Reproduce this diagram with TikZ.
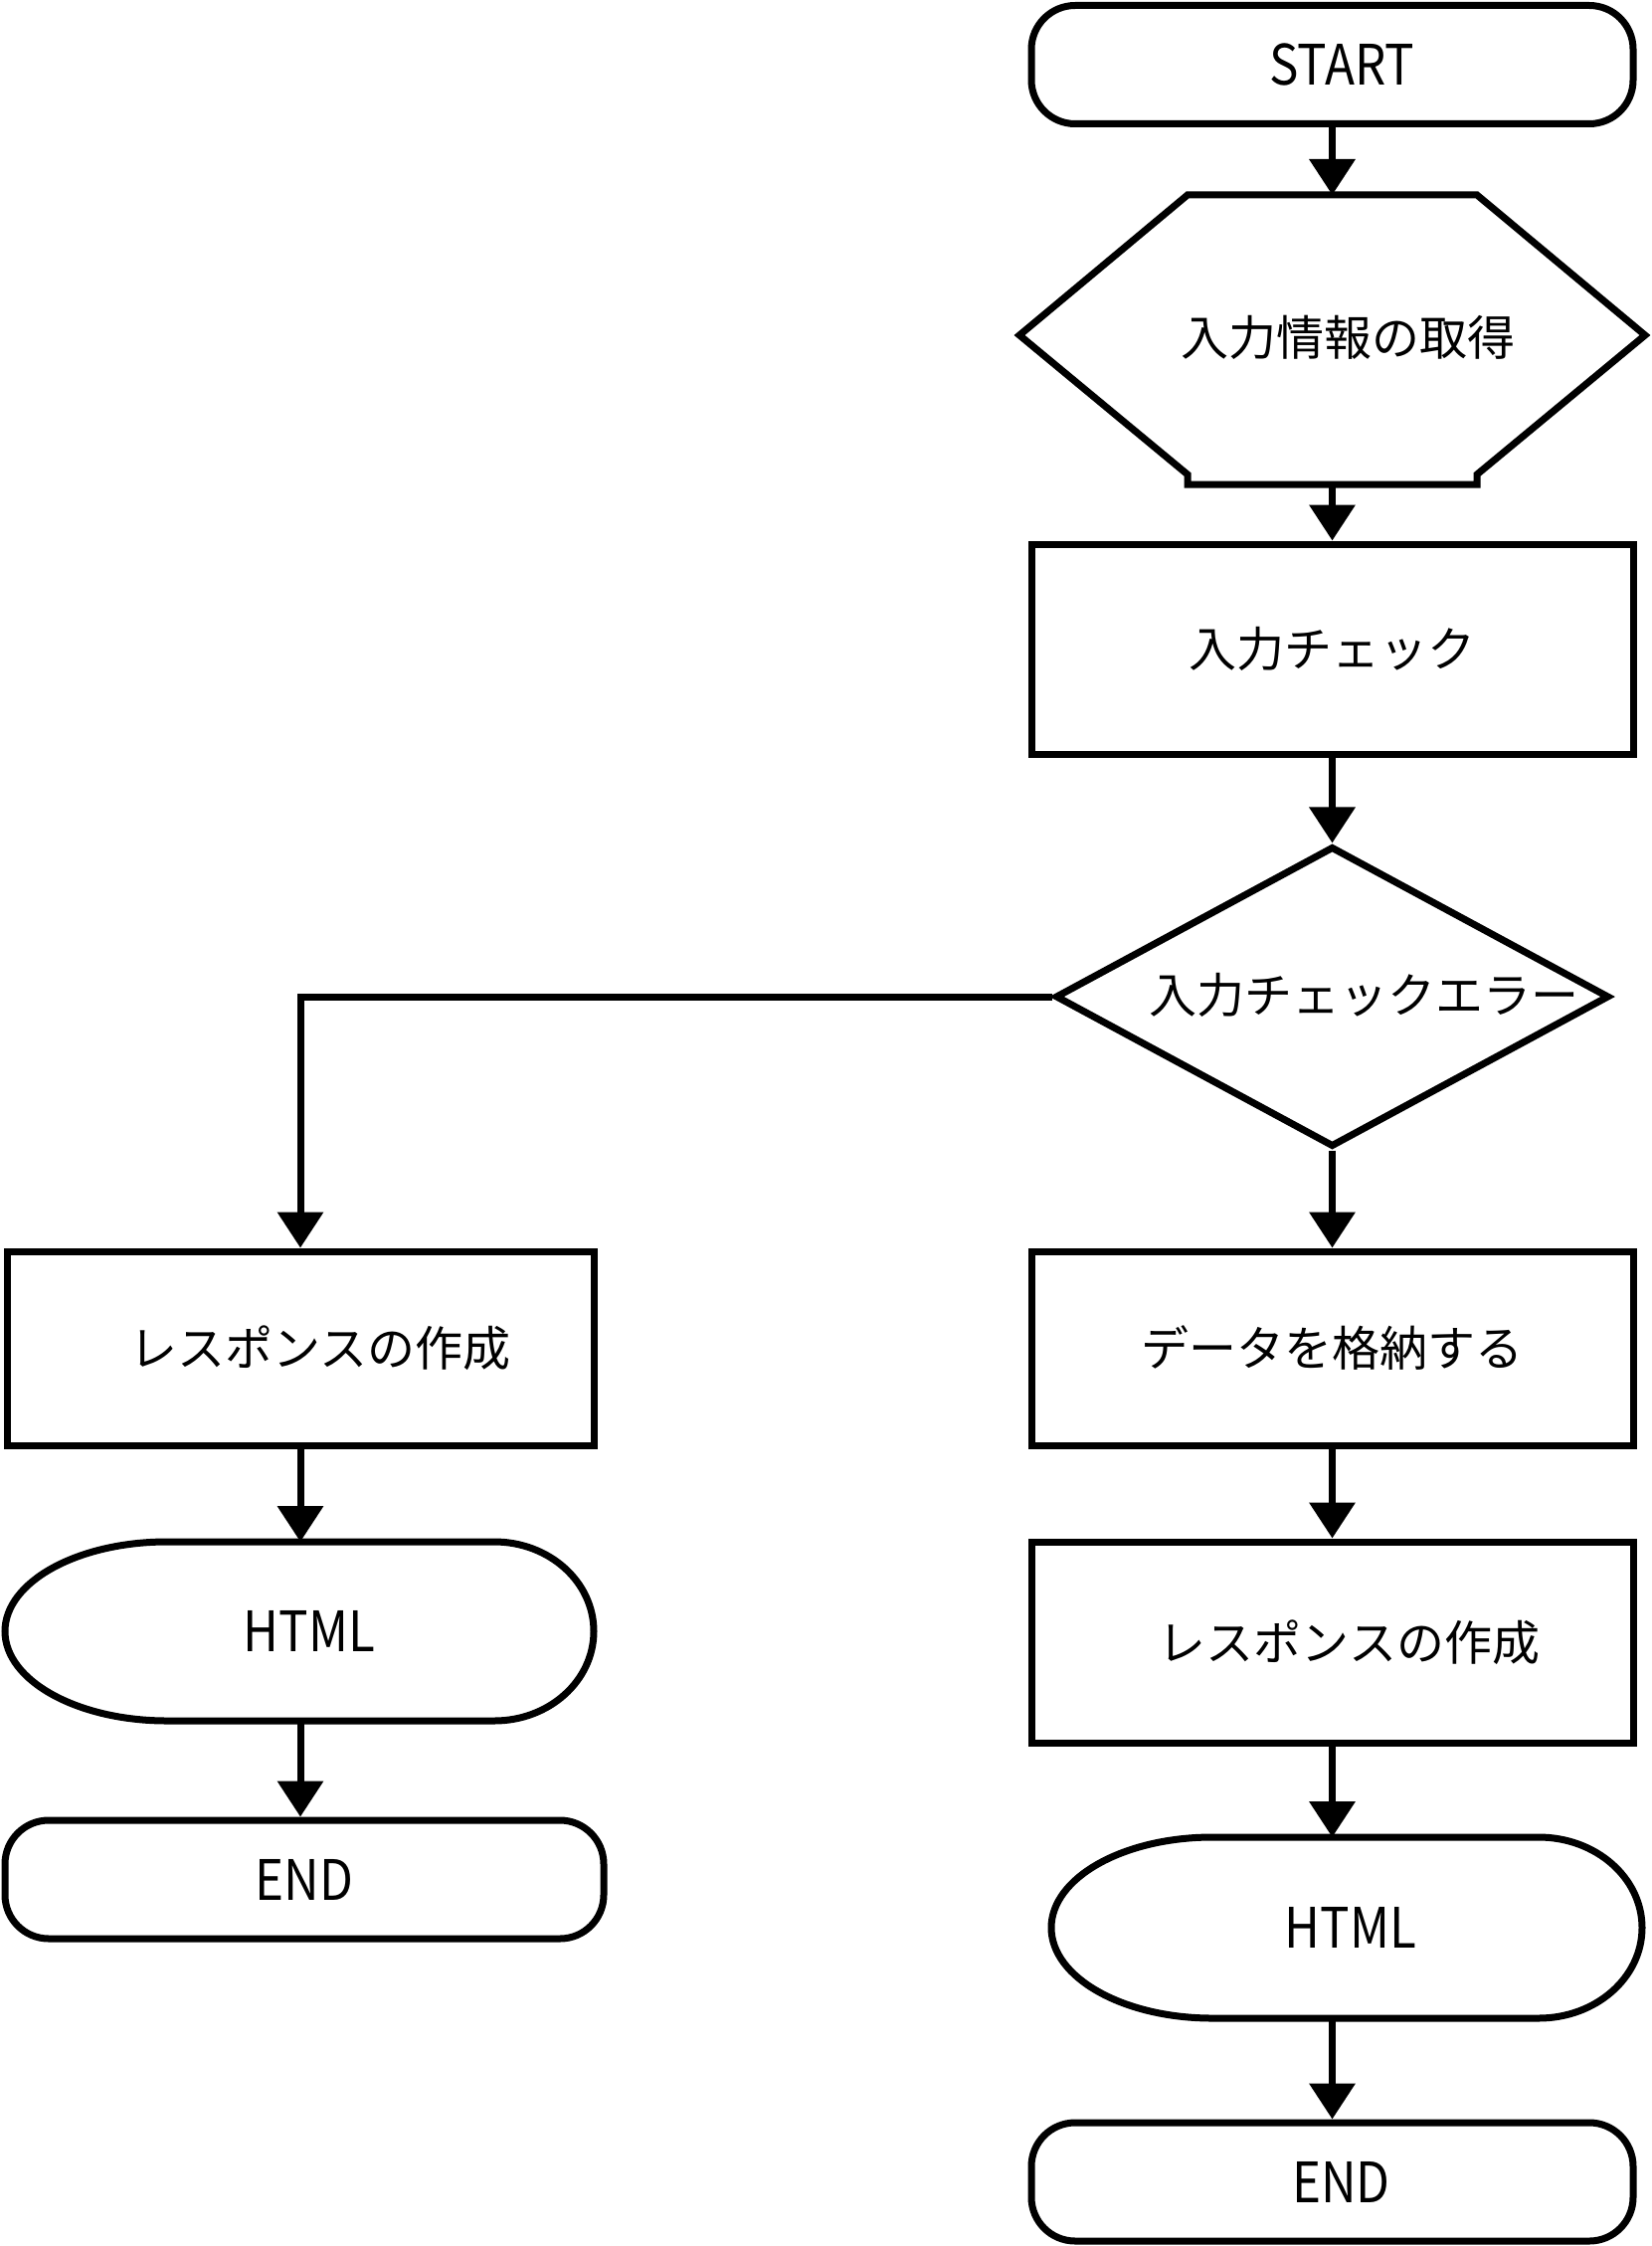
\documentclass[tikz,border=0pt]{standalone}
\usepackage{fontspec}
\setmainfont{Noto Sans CJK JP}
\newfontfamily\latinfont[FakeStretch=0.88]{Noto Sans CJK JP}
\usetikzlibrary{arrows.meta,shapes.geometric}

\newcommand{\jpsize}{\fontsize{24pt}{28pt}\selectfont}
\newcommand{\ensize}{\latinfont\fontsize{28pt}{32pt}\selectfont}

\tikzset{
  proc/.style={draw, line width=3.5pt, rectangle, minimum width=302.5pt, inner sep=0pt, font=\jpsize},
  term/.style={proc, rounded corners=22pt, minimum height=59.5pt, font=\ensize},
  decide/.style={draw, line width=3.5pt, diamond, minimum width=278.5pt, minimum height=151pt, inner sep=0pt},
  outline/.style={draw, line width=3.5pt},
  lbl/.style={inner sep=0pt, font=\jpsize},
  arr/.style={line width=3.5pt, -{Triangle[width=22.5pt,length=18pt]}},
  nudge/.style={execute at begin node={\hspace*{#1}}},
}

\begin{document}
\begin{tikzpicture}[x=0.5pt,y=-0.5pt]
  \useasboundingbox (0,0) rectangle (1660,2258);

  % main column
  \node[term, nudge=10pt] (start) at (1339.5,65) {START};

  % preparation
  \draw[outline] (1194,196) -- (1485,196) -- (1654,337) -- (1485,477) -- (1485,487)
    -- (1194,487) -- (1194,477) -- (1025,337) -- cycle;
  \coordinate (prep-n) at (1339.5,196);
  \coordinate (prep-s) at (1339.5,487);
  \node[lbl] (prep) at (1355,339) {入力情報の取得};

  \node[proc, minimum height=105.5pt] (chk) at (1339.5,652.5) {入力チェック};

  % decision
  \node[decide] (dec) at (1339.5,1002) {};
  \node[lbl] (dec-t) at (1371,1000) {入力チェックエラー};

  \node[proc, minimum height=97.5pt] (data) at (1339.5,1355.5) {データを格納する};
  \node[proc, minimum height=101pt, nudge=17pt] (resR) at (1339.5,1651) {レスポンスの作成};

  % display (right)
  \draw[outline] (1219,1847) -- (1547,1847)
    arc[start angle=90, end angle=-90, x radius=52pt, y radius=45.5pt]
    -- (1219,2029)
    arc[start angle=270, end angle=90, x radius=81pt, y radius=45.5pt] -- cycle;
  \coordinate (htmlR-n) at (1339.5,1847);
  \coordinate (htmlR-s) at (1339.5,2029);
  \node[lbl, font=\ensize] (htmlR) at (1358,1938) {HTML};

  \node[term, nudge=9pt] (endR) at (1339.5,2193.5) {END};

  % error branch
  \node[proc, minimum width=295pt, minimum height=97.5pt, nudge=20pt] (resL) at (302,1355.5) {レスポンスの作成};

  % display (left)
  \draw[outline] (168,1550) -- (497,1550)
    arc[start angle=90, end angle=-90, x radius=50pt, y radius=45pt]
    -- (168,1730)
    arc[start angle=270, end angle=90, x radius=81.5pt, y radius=45pt] -- cycle;
  \coordinate (htmlL-n) at (302,1550);
  \coordinate (htmlL-s) at (302,1730);
  \node[lbl, font=\ensize] (htmlL) at (311,1640) {HTML};

  \node[term, minimum width=301pt] (endL) at (306,1889.5) {END};

  % connectors
  \draw[arr] (start) -- (prep-n);
  \draw[arr] (prep-s) -- (chk);
  \draw[arr] (chk) -- (dec);
  \draw[arr] (dec) -- (data);
  \draw[arr] (data) -- (resR);
  \draw[arr] (resR) -- (htmlR-n);
  \draw[arr] (htmlR-s) -- (endR);
  \draw[arr] (dec.west) -| (resL.north);
  \draw[arr] (resL) -- (htmlL-n);
  \draw[arr] (htmlL-s) -- (htmlL-s |- endL.north);

\end{tikzpicture}
\end{document}
